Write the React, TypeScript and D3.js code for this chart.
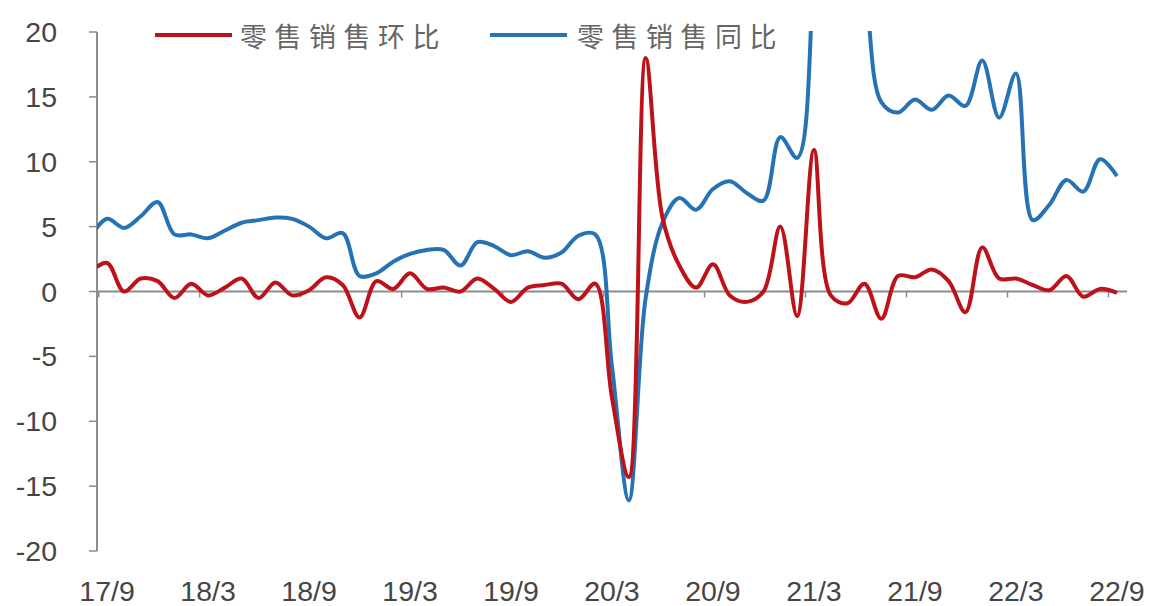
import React from 'react';
import * as d3 from 'd3';

// Monthly index: -1 = 17/8 (partly hidden by the axis), 0 = 17/9 ... 60 = 22/9
const monthIndex: number[] = d3.range(-1, 61);

const seriesNames: string[] = ['零售销售环比', '零售销售同比'];

// 零售销售环比 (MoM, %)
const momValues: number[] = [
  1.5,
  2.2, 0.0, 1.0, 0.8, -0.5, 0.6, -0.3, 0.3, 1.0, -0.5, 0.7, -0.3,
  0.1, 1.1, 0.5, -2.0, 0.8, 0.2, 1.4, 0.2, 0.3, 0.0, 1.0, 0.2,
  -0.8, 0.3, 0.5, 0.6, -0.6, 0.6, -8.2, -14.3, 18.0, 5.7, 2.0, 0.3,
  2.1, -0.3, -0.8, 0.0, 5.0, -1.9, 10.9, -0.3, -0.9, 0.6, -2.1, 1.2,
  1.1, 1.7, 0.8, -1.6, 3.4, 1.0, 1.0, 0.5, 0.1, 1.2, -0.4, 0.2,
  -0.1,
];

// 零售销售同比 (YoY, %)
const yoyValues: number[] = [
  4.2,
  5.6, 4.9, 5.8, 6.9, 4.4, 4.4, 4.1, 4.7, 5.3, 5.5, 5.7, 5.6,
  5.0, 4.1, 4.5, 1.2, 1.4, 2.3, 2.9, 3.2, 3.2, 2.0, 3.8, 3.5,
  2.8, 3.1, 2.6, 3.0, 4.3, 4.4, -5.8, -16.1, -0.5, 5.3, 7.2, 6.3,
  7.9, 8.5, 7.6, 7.0, 11.9, 10.3, 25.0, 51.0, 28.0, 23.5, 14.6, 13.8,
  14.8, 14.0, 15.1, 14.3, 17.8, 13.4, 16.8, 5.5, 6.7, 8.6, 7.7, 10.2,
  8.9,
];

const xTickLabels: string[] = ['17/9', '18/3', '18/9', '19/3', '19/9', '20/3', '20/9', '21/3', '21/9', '22/3', '22/9'];
const xTickIndex: number[] = [0, 6, 12, 18, 24, 30, 36, 42, 48, 54, 60];
const yTicks: number[] = [20, 15, 10, 5, 0, -5, -10, -15, -20];

const W = 1157;
const H = 606;
const RED = '#BE121B';
const BLUE = '#2672B3';
const AXIS = '#8c8c8c';
const TEXT = '#454545';

export default function App() {
  const x = d3.scaleLinear().domain([-0.6, 60.6]).range([97, 1127]);
  const y = d3.scaleLinear().domain([-20, 20]).range([551, 32]);

  const line = d3
    .line<number>()
    .x((_, i) => x(monthIndex[i]))
    .y((d) => y(d))
    .curve(d3.curveCatmullRom.alpha(0.5));

  const left = x.range()[0];
  const right = x.range()[1];

  return (
    <svg
      width={W}
      height={H}
      viewBox={`0 0 ${W} ${H}`}
      style={{ position: 'absolute', left: 0, top: 0, background: '#fff' }}
    >
      <defs>
        <clipPath id="plotClip">
          <rect x={left} y={y(20) - 1} width={right - left} height={y(-20) - y(20) + 2} />
        </clipPath>
      </defs>

      {/* y axis */}
      <line x1={left} x2={left} y1={y(20)} y2={y(-20)} stroke={AXIS} strokeWidth={2} />
      {yTicks.map((t) => (
        <g key={t}>
          <line x1={left - 8} x2={left} y1={y(t)} y2={y(t)} stroke={AXIS} strokeWidth={1.5} />
          <text
            x={57}
            y={y(t)}
            textAnchor="end"
            dominantBaseline="central"
            fontFamily="'Liberation Sans', Arial, sans-serif"
            fontSize={28.5}
            fill={TEXT}
          >
            {t}
          </text>
        </g>
      ))}

      {/* zero line (category axis) */}
      <line x1={left} x2={right} y1={y(0)} y2={y(0)} stroke={AXIS} strokeWidth={2} />
      {xTickIndex.map((m) => (
        <line
          key={'t' + m}
          x1={x(m - 0.5)}
          x2={x(m - 0.5)}
          y1={y(0)}
          y2={y(0) + 6}
          stroke={AXIS}
          strokeWidth={1.5}
        />
      ))}
      {xTickIndex.map((m, k) => (
        <text
          key={'l' + m}
          x={x(m)}
          y={601}
          textAnchor="middle"
          fontFamily="'Liberation Sans', Arial, sans-serif"
          fontSize={28.5}
          fill={TEXT}
        >
          {xTickLabels[k]}
        </text>
      ))}

      {/* series */}
      <g clipPath="url(#plotClip)">
        <path d={line(yoyValues) || ''} fill="none" stroke={BLUE} strokeWidth={4} strokeLinejoin="round" />
        <path d={line(momValues) || ''} fill="none" stroke={RED} strokeWidth={4} strokeLinejoin="round" />
      </g>

      {/* legend */}
      <g fontFamily="'Noto Sans CJK SC', sans-serif" fontSize={27} fill="#666">
        <line x1={155} x2={232} y1={35} y2={35} stroke={RED} strokeWidth={4} />
        <text x={240} y={35} dominantBaseline="central" letterSpacing={7.5}>
          {seriesNames[0]}
        </text>
        <line x1={490} x2={567} y1={35} y2={35} stroke={BLUE} strokeWidth={4} />
        <text x={577} y={35} dominantBaseline="central" letterSpacing={7.5}>
          {seriesNames[1]}
        </text>
      </g>
    </svg>
  );
}
